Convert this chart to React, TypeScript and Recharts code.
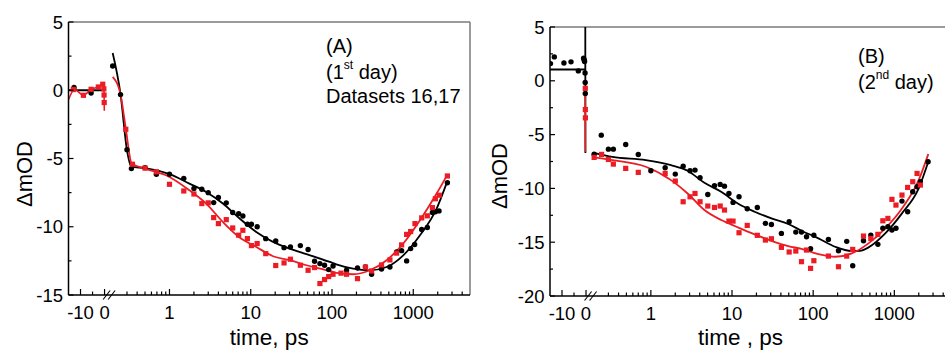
import { ComposedChart, XAxis, YAxis, Line, Scatter, ReferenceLine, Label } from "recharts";

type Pt = [number, number];

const FONT = "Arial, 'Liberation Sans', Helvetica, sans-serif";
const RED = "#ec1c24";
const FRAME = "#7a7a7a";

// broken time axis: linear ps up to the break, log10 ps after it
const X_MIN = -15;
const X_MAX = 152;
const U_ONE = 27;
const DEC = 33.8;
const BREAK_U = 1.9;

const linMajor = [-10, 0];
const linMinor = [-5];
const logMajor = [1, 10, 100, 1000];
const logMinor = [0.3, 0.4, 0.5, 0.6, 0.7, 0.8, 0.9, 2, 3, 4, 5, 6, 7, 8, 9, 20, 30, 40, 50, 60, 70, 80, 90, 200, 300, 400, 500, 600, 700, 800, 900, 2000, 3000, 4000];

// ---- panel A (1st day), time before zero
const aBlackPre: Pt[] = [[-12.7, 0.2], [-5.6, -0.2]];
const aRedPre: Pt[] = [[-13, 0.05], [-8.8, -0.37], [-5.6, 0.07], [-2.6, 0.24], [-0.75, 0.44], [-0.3, 0.1], [-0.2, -0.35], [-0.15, -0.9]];
const aBlackPreFit: Pt[] = [[-15, 0], [-0.4, 0]];
const aRedPreFit: Pt[] = [[-15, -0.7], [-12.5, 0.05], [-8.8, -0.37], [-5.6, 0.07], [-2.6, 0.24], [-0.7, 0.44], [-0.3, 0.3], [-0.1, -1.5]];

// ---- panel A, log part
const aBlack: Pt[] = [
  [0.2, 1.78], [0.25, -0.32], [0.3, -4.35], [0.34, -5.74], [0.5, -5.67], [0.69, -6.15], [1.0, -6.15], [1.5, -6.47],
  [2.0, -7.2], [2.5, -7.25], [3.0, -7.5], [3.5, -8.23], [4.0, -7.86], [5.0, -8.25], [6.0, -8.96], [7.1, -9.04],
  [8.0, -9.21], [9.1, -9.82], [10.2, -9.82], [12, -10.0], [15.3, -10.87], [20.3, -11.04], [25.7, -11.53], [30.8, -11.48],
  [40.8, -11.38], [50.8, -11.67], [61, -12.53], [71, -12.7], [81, -12.82], [91, -13.14], [103, -12.87], [151, -13.19],
  [206, -13.02], [258, -12.95], [307, -13.48], [407, -13.1], [516, -12.95], [623, -11.85], [719, -11.75], [829, -12.5],
  [929, -11.6], [1040, -11.3], [1270, -10.2], [1490, -10.06], [1720, -8.95], [1870, -8.9], [2075, -8.84], [2630, -6.78],
];
const aRed: Pt[] = [
  [0.29, -2.86], [0.35, -5.42], [0.5, -5.7], [0.69, -5.98], [1.0, -6.89], [1.5, -7.38], [2.0, -7.6], [2.5, -8.3],
  [3.0, -8.25], [3.5, -9.33], [4.0, -9.77], [5.0, -9.48], [6.0, -10.09], [7.1, -10.62], [8.0, -10.26], [9.1, -10.87],
  [10.2, -11.38], [12, -11.23], [15.3, -11.97], [20.3, -12.84], [25.7, -12.65], [30.8, -12.38], [40.8, -12.82], [50.8, -13.19],
  [61, -12.99], [71, -14.16], [81, -13.87], [91, -13.65], [103, -13.48], [129, -13.4], [151, -13.48], [206, -13.8],
  [258, -12.95], [307, -13.24], [407, -12.8], [516, -12.43], [623, -11.93], [719, -11.33], [829, -10.56], [929, -10.35],
  [1050, -9.77], [1270, -9.35], [1490, -9.2], [1720, -8.6], [1870, -7.95], [2090, -7.69], [2630, -6.28],
];
const aBlackFit: Pt[] = [
  [0.2, 2.73], [0.25, -0.3], [0.3, -4.4], [0.34, -5.6], [0.5, -5.7], [1.0, -6.15], [1.76, -6.84], [2.83, -7.45],
  [4.54, -8.3], [7.3, -9.4], [11.7, -10.38], [18.8, -11.11], [30.2, -11.6], [48.5, -12.0], [94, -12.58], [113, -12.75],
  [182, -13.07], [292, -13.19], [470, -12.95], [753, -12.09], [1210, -10.62], [1940, -8.67], [2580, -6.79],
];
const aRedFit: Pt[] = [
  [0.2, 0.98], [0.25, -0.32], [0.29, -2.81], [0.343, -5.37], [0.5, -5.74], [1.0, -6.35], [1.76, -7.33], [2.83, -8.3],
  [4.54, -9.65], [7.3, -10.79], [11.7, -11.48], [18.8, -12.16], [30.2, -12.45], [48.5, -12.82], [94, -13.24], [113, -13.38],
  [182, -13.48], [292, -13.19], [470, -12.45], [753, -11.23], [1210, -9.52], [1940, -7.57], [2630, -6.18],
];

// ---- panel B (2nd day), time before zero
const bBlackPre: Pt[] = [[-14.8, 1.6], [-13.2, 2.22], [-9.2, 1.66], [-6.25, 1.76], [-3.2, 0.92], [-1.0, 2.1], [-0.8, 1.95], [-0.6, 1.8], [-0.4, 0.73], [-0.35, -0.15], [-0.3, -1.18]];
const bRedPre: Pt[] = [[-0.3, -0.7], [-0.28, -2.67], [-0.26, -3.44]];
const bBlackPreFit: Pt[] = [[-15, 1.05], [-0.3, 1.05], [-0.3, 5], [-0.25, -6.7]];
const bRedPreFit: Pt[] = [[-0.3, -0.5], [-0.25, -6.6]];

// ---- panel B, log part
const bBlack: Pt[] = [
  [0.2, -6.82], [0.245, -5.05], [0.3, -6.35], [0.345, -6.35], [0.49, -5.92], [0.7, -6.85], [1.0, -8.36], [1.5, -8.08],
  [2.0, -8.67], [2.5, -7.93], [3.04, -8.36], [3.5, -8.3], [4.04, -9.01], [5.03, -10.56], [6.08, -9.76], [7.15, -9.63],
  [8.08, -9.79], [9.16, -10.47], [10.3, -11.3], [12.2, -10.78], [15.4, -11.89], [20.5, -11.77], [25.8, -13.25], [30.6, -13.35],
  [40.6, -14.18], [50.6, -13.1], [61.1, -14.06], [71.8, -14.06], [82.8, -14.49], [92.9, -15.6], [102, -14.36], [154, -14.74],
  [205, -15.79], [259, -14.92], [307, -17.19], [417, -14.87], [513, -14.34], [627, -15.2], [722, -13.71], [833, -13.56],
  [934, -13.87], [1047, -13.71], [1242, -11.18], [1459, -12.17], [1686, -10.31], [1905, -9.85], [2093, -9.38], [2606, -7.53],
];
const bRed: Pt[] = [
  [0.2, -7.12], [0.247, -6.84], [0.3, -7.31], [0.345, -7.74], [0.49, -8.14], [0.7, -8.51], [1.5, -8.61], [2.0, -9.32],
  [2.5, -11.24], [3.04, -10.78], [3.5, -10.47], [4.04, -11.24], [5.03, -11.64], [6.08, -11.77], [7.15, -11.64], [8.08, -12.01],
  [9.16, -13.04], [10.3, -13.04], [12.2, -14.12], [15.4, -13.44], [20.5, -14.36], [25.8, -14.8], [30.6, -14.68], [40.6, -15.48],
  [50.6, -15.91], [61.1, -15.82], [71.8, -16.81], [82.8, -15.73], [92.9, -17.43], [102, -16.72], [154, -16.29], [205, -17.28],
  [259, -16.29], [307, -15.67], [417, -14.43], [513, -14.65], [627, -14.27], [722, -13.01], [833, -12.79], [934, -11.02],
  [1047, -11.55], [1242, -10.62], [1459, -9.91], [1686, -9.38], [1905, -8.61], [2093, -9.69],
];
const bBlackFit: Pt[] = [
  [0.2, -6.69], [0.336, -7.07], [0.867, -7.37], [1.77, -7.84], [2.84, -8.36], [4.57, -9.48], [7.35, -10.31], [11.8, -11.4],
  [19, -12.17], [30.6, -12.79], [49.2, -13.31], [71.8, -13.93], [116, -14.64], [186, -15.42], [299, -15.82], [378, -15.8],
  [481, -15.48], [773, -14.18], [1242, -12.32], [1996, -10.0], [2620, -7.53],
];
const bRedFit: Pt[] = [
  [0.2, -7.12], [0.336, -7.37], [0.867, -7.99], [1.77, -9.23], [2.84, -10.47], [4.57, -12.01], [7.35, -12.94], [11.8, -13.62],
  [19, -14.27], [30.6, -14.87], [49.2, -15.36], [71.8, -15.62], [116, -16.1], [186, -16.35], [299, -16.04], [481, -15.11],
  [773, -13.71], [1242, -11.86], [1996, -9.23], [2620, -6.81],
];

const logU = (t: number) => U_ONE + DEC * Math.log10(t);
const pre = (a: Pt[]) => a.map(([t, v]) => ({ u: t, v }));
const post = (a: Pt[]) => a.map(([t, v]) => ({ u: logU(t), v }));

type TickDef = { u: number; label?: string; kind: "major" | "minor" | "break" };

const xDefs: TickDef[] = [
  ...linMajor.map((t) => ({ u: t, label: String(t), kind: "major" as const })),
  ...linMinor.map((t) => ({ u: t, kind: "minor" as const })),
  { u: BREAK_U, kind: "break" as const },
  ...logMajor.map((t) => ({ u: logU(t), label: String(t), kind: "major" as const })),
  ...logMinor.map((t) => ({ u: logU(t), kind: "minor" as const })),
];

const tickText = { fontFamily: FONT, fontSize: 18.5, fill: "#000" };

function XTick(p: any) {
  const { x, y, payload } = p;
  const d = xDefs.find((k) => Math.abs(k.u - payload.value) < 1e-6);
  if (!d) return <g />;
  if (d.kind === "break") {
    return (
      <g stroke="#000" strokeWidth={1.1}>
        <line x1={x - 6} y1={y + 4.5} x2={x + 1} y2={y - 4.5} />
        <line x1={x - 1} y1={y + 4.5} x2={x + 6} y2={y - 4.5} />
      </g>
    );
  }
  const major = d.kind === "major";
  return (
    <g>
      <line x1={x} y1={y} x2={x} y2={y - (major ? 6 : 3.5)} stroke="#000" strokeWidth={1.2} />
      {d.label && (
        <text x={x} y={y + 24} textAnchor="middle" {...tickText}>
          {d.label}
        </text>
      )}
    </g>
  );
}

function YTick(p: any) {
  const { x, y, payload } = p;
  const major = Math.abs(payload.value % 5) < 1e-6;
  return (
    <g>
      <line x1={x} y1={y} x2={x + (major ? 5 : 3)} y2={y} stroke="#000" strokeWidth={1.2} />
      {major && (
        <text x={x - 5.5} y={y + 6.6} textAnchor="end" {...tickText}>
          {payload.value}
        </text>
      )}
    </g>
  );
}

const dotShape = (p: any) => <circle cx={p.cx} cy={p.cy} r={2.7} fill="#000" />;
const squareShape = (p: any) => <rect x={p.cx - 2.6} y={p.cy - 2.6} width={5.2} height={5.2} fill={RED} />;

type PanelProps = {
  width: number;
  yMin: number;
  top: number;
  yAxisW: number;
  xAxisH: number;
  right: number;
  xTitle: string;
  xTitleDx: number;
  yTitleDy: number;
  showRight: boolean;
  blackPre: Pt[];
  redPre: Pt[];
  blackPreFit: Pt[];
  redPreFit: Pt[];
  preFitType: "linear" | "monotone";
  black: Pt[];
  red: Pt[];
  blackFit: Pt[];
  redFit: Pt[];
};

function Panel(P: PanelProps) {
  const yTicks: number[] = [];
  for (let v = P.yMin; v <= 5 + 1e-9; v += 2.5) yTicks.push(v);
  return (
    <ComposedChart width={P.width} height={350} margin={{ top: P.top, right: P.right, bottom: 0, left: 0 }}>
      <XAxis
        type="number"
        dataKey="u"
        domain={[X_MIN, X_MAX]}
        allowDataOverflow
        ticks={xDefs.map((d) => d.u)}
        interval={0}
        tickLine={false}
        tickSize={0}
        tickMargin={0}
        tick={XTick}
        axisLine={{ stroke: "#000", strokeWidth: 1.5 }}
        height={P.xAxisH}
      >
        <Label
          content={(lp: any) => {
            const vb = lp.viewBox || { x: 0, y: 0, width: 0 };
            return (
              <text x={vb.x + vb.width / 2 + P.xTitleDx} y={350 - 5} textAnchor="middle" fontFamily={FONT} fontSize={22.5} fill="#000">
                {P.xTitle}
              </text>
            );
          }}
        />
      </XAxis>
      <YAxis
        type="number"
        dataKey="v"
        domain={[P.yMin, 5]}
        allowDataOverflow
        ticks={yTicks}
        interval={0}
        tickLine={false}
        tickSize={0}
        tickMargin={0}
        tick={YTick}
        axisLine={{ stroke: "#000", strokeWidth: 1.5 }}
        width={P.yAxisW}
      >
        <Label
          content={(lp: any) => {
            const vb = lp.viewBox || { x: 0, y: 0, height: 0 };
            const cx = vb.x + 31.5;
            const cy = vb.y + vb.height / 2 + P.yTitleDy;
            return (
              <text x={cx} y={cy} transform={`rotate(-90 ${cx} ${cy})`} textAnchor="middle" fontFamily={FONT} fontSize={22} fill="#000">
                ΔmOD
              </text>
            );
          }}
        />
      </YAxis>
      <ReferenceLine y={5} stroke={FRAME} strokeWidth={1.5} />
      {P.showRight && <ReferenceLine x={X_MAX} stroke={FRAME} strokeWidth={1.5} />}

      <Scatter data={pre(P.blackPre)} dataKey="v" shape={dotShape} isAnimationActive={false} />
      <Scatter data={pre(P.redPre)} dataKey="v" shape={squareShape} isAnimationActive={false} />
      <Scatter data={post(P.black)} dataKey="v" shape={dotShape} isAnimationActive={false} />
      <Scatter data={post(P.red)} dataKey="v" shape={squareShape} isAnimationActive={false} />

      <Line data={pre(P.blackPreFit)} dataKey="v" type="linear" stroke="#000" strokeWidth={1.8} dot={false} isAnimationActive={false} />
      <Line data={pre(P.redPreFit)} dataKey="v" type={P.preFitType} stroke={RED} strokeWidth={1.6} dot={false} isAnimationActive={false} />
      <Line data={post(P.blackFit)} dataKey="v" type="monotone" stroke="#000" strokeWidth={1.8} dot={false} isAnimationActive={false} />
      <Line data={post(P.redFit)} dataKey="v" type="monotone" stroke={RED} strokeWidth={1.8} dot={false} isAnimationActive={false} />
    </ComposedChart>
  );
}

const note = { fontFamily: FONT, fontSize: 20, fill: "#000" };

export default function App() {
  return (
    <div style={{ position: "absolute", left: 0, top: 0, width: 945, height: 350, overflow: "hidden", background: "#fff" }}>
      <div style={{ position: "absolute", left: 0, top: 0 }}>
        <Panel
          width={475}
          yMin={-15}
          top={22}
          yAxisW={68.5}
          xAxisH={55}
          right={5}
          xTitle="time, ps"
          xTitleDx={0}
          yTitleDy={15.5}
          showRight
          blackPre={aBlackPre}
          redPre={aRedPre}
          blackPreFit={aBlackPreFit}
          redPreFit={aRedPreFit}
          preFitType="monotone"
          black={aBlack}
          red={aRed}
          blackFit={aBlackFit}
          redFit={aRedFit}
        />
      </div>
      <div style={{ position: "absolute", left: 475, top: 0 }}>
        <Panel
          width={480}
          yMin={-20}
          top={27}
          yAxisW={75}
          xAxisH={54}
          right={4}
          xTitle="time , ps"
          xTitleDx={-10}
          yTitleDy={14.5}
          showRight={false}
          blackPre={bBlackPre}
          redPre={bRedPre}
          blackPreFit={bBlackPreFit}
          redPreFit={bRedPreFit}
          preFitType="linear"
          black={bBlack}
          red={bRed}
          blackFit={bBlackFit}
          redFit={bRedFit}
        />
      </div>
      <svg width={945} height={350} style={{ position: "absolute", left: 0, top: 0, pointerEvents: "none" }}>
        <text x={326} y={52.5} {...note}>(A)</text>
        <text x={326} y={79} {...note}>
          (1<tspan fontSize={12} dy={-10}>st</tspan>
          <tspan dy={10}> day)</tspan>
        </text>
        <text x={326} y={102.5} {...note}>Datasets 16,17</text>
        <text x={858} y={62.5} {...note}>(B)</text>
        <text x={858} y={89} {...note}>
          (2<tspan fontSize={12} dy={-10}>nd</tspan>
          <tspan dy={10}> day)</tspan>
        </text>
      </svg>
    </div>
  );
}
